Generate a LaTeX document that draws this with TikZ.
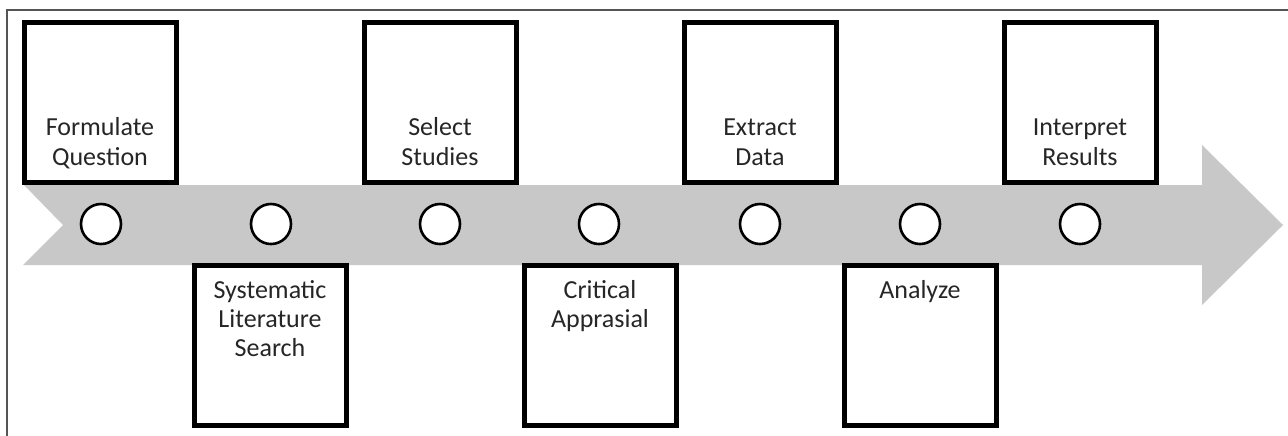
\documentclass[tikz,border=0pt]{standalone}
\usepackage{fontspec}
\setmainfont{Carlito}
\usepackage{tikz}
\usetikzlibrary{positioning}
\definecolor{bandgray}{RGB}{200,200,200}
\definecolor{framegray}{RGB}{85,85,85}
\definecolor{textgray}{RGB}{38,38,38}

\begin{document}
\begin{tikzpicture}[x=0.5pt,y=-0.5pt,
  stepbox/.style={rectangle,draw=black,fill=white,line width=2.5pt,minimum width=76pt,minimum height=80pt,inner sep=0pt},
  dot/.style={circle,draw=black,fill=white,line width=1.3pt,minimum size=20pt,inner sep=0pt},
  steptext/.style={align=center,inner sep=0pt,text=textgray,font=\fontsize{13pt}{14.6pt}\selectfont}]
\useasboundingbox (0,0) rectangle (1288,435);
% frame
\draw [framegray,line width=0.75pt] (7,440) -- (7,10) -- (1295,10);
% arrow band
\fill [bandgray] (24,185) -- (1202,185) -- (1202,145) -- (1283,225) -- (1202,305) -- (1202,265) -- (23,265) -- (63,225) -- cycle;
% boxes above
\node (fq) [stepbox] at (100,102.5) {};
\node (ss) [stepbox] at (440,102.5) {};
\node (ed) [stepbox] at (760,102.5) {};
\node (ir) [stepbox] at (1080,102.5) {};
% boxes below
\node (sls) [stepbox] at (270,345.5) {};
\node (ca) [stepbox] at (600,345.5) {};
\node (an) [stepbox] at (920,345.5) {};
% texts
\node [steptext,text depth=0pt,above=9.75pt] at (fq.south) {Formulate\\Question};
\node [steptext,text depth=0pt,above=9.75pt] at (ss.south) {Select\\Studies};
\node [steptext,text depth=0pt,above=9.75pt] at (ed.south) {Extract\\Data};
\node [steptext,text depth=0pt,above=9.75pt] at (ir.south) {Interpret\\Results};
\node [steptext,below=8.5pt] at (sls.north) {Systematic\\Literature\\Search};
\node [steptext,below=8.5pt] at (ca.north) {Critical\\Apprasial};
\node [steptext,below=8.5pt] at (an.north) {Analyze};
% milestones
\node (d1) [dot] at (101,224) {};
\node (d2) [dot] at (271,224) {};
\node (d3) [dot] at (440,224) {};
\node (d4) [dot] at (599,224) {};
\node (d5) [dot] at (760,224) {};
\node (d6) [dot] at (920,224) {};
\node (d7) [dot] at (1080,224) {};
\end{tikzpicture}
\end{document}
